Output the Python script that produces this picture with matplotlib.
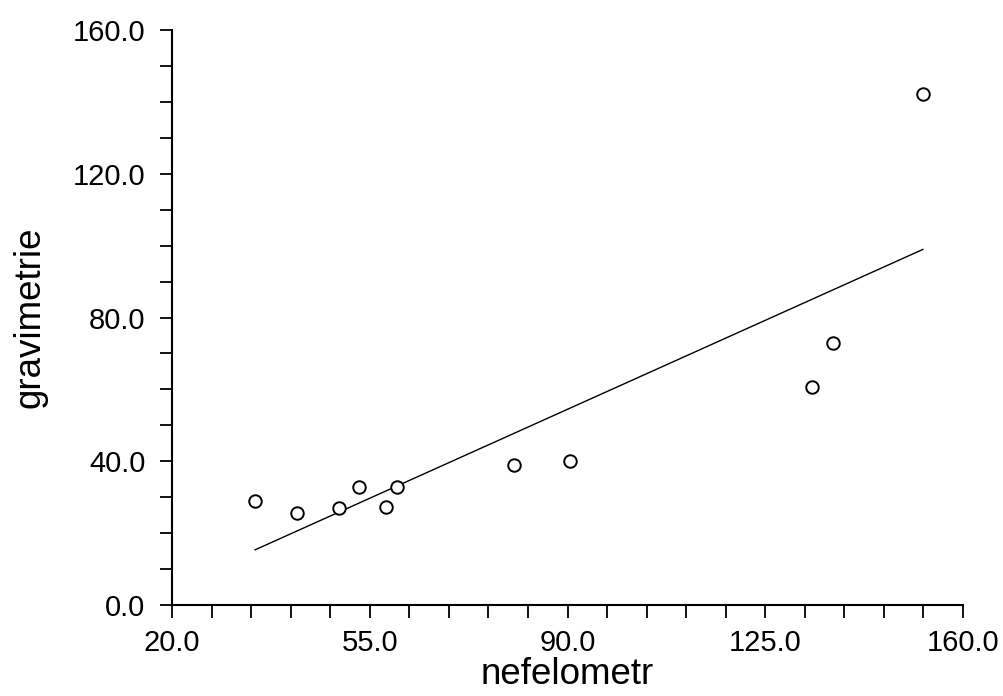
import matplotlib
matplotlib.use('Agg')
import matplotlib.pyplot as plt
import numpy as np

plt.rcParams['font.family'] = ['Liberation Sans', 'DejaVu Sans']

# data
nefelometr = [34.7, 42.1, 49.6, 53.1, 57.9, 59.8, 80.5, 90.4, 133.3, 137.0, 152.9]
gravimetrie = [28.9, 25.6, 27.0, 32.8, 27.3, 32.8, 39.0, 40.1, 60.7, 72.9, 142.2]
x_major = [20, 55, 90, 125, 160]
y_major = [0, 40, 80, 120, 160]

x = np.array(nefelometr)
y = np.array(gravimetrie)
slope, intercept = np.polyfit(x, y, 1)
xl = np.array([x.min(), x.max()])

fig = plt.figure(figsize=(10.04, 6.96), dpi=100)
ax = fig.add_axes([0.1713, 0.1307, 0.7879, 0.8262])

ax.plot(xl, intercept + slope * xl, color='black', lw=1.0)
ax.plot(x, y, 'o', mfc='white', mec='black', ms=9, mew=1.4, ls='none')

ax.set_xlim(20, 160)
ax.set_ylim(0, 160)
ax.set_xticks(x_major)
ax.set_xticklabels([f'{v:.1f}' for v in x_major])
ax.set_yticks(y_major)
ax.set_yticklabels([f'{v:.1f}' for v in y_major])
ax.set_xticks(np.arange(20, 161, 7), minor=True)
ax.set_yticks(np.arange(0, 161, 10), minor=True)

for s in ['top', 'right']:
    ax.spines[s].set_visible(False)
for s in ['left', 'bottom']:
    ax.spines[s].set_linewidth(1.5)
ax.tick_params(which='both', direction='out', length=9, width=1.3, labelsize=21)
ax.tick_params(axis='y', pad=10)
ax.tick_params(axis='x', pad=8)

ax.set_xlabel('nefelometr', fontsize=26.5, labelpad=0.5)
ax.set_ylabel('gravimetrie', fontsize=26.5, labelpad=18)

fig.savefig('out.png', dpi=100)
